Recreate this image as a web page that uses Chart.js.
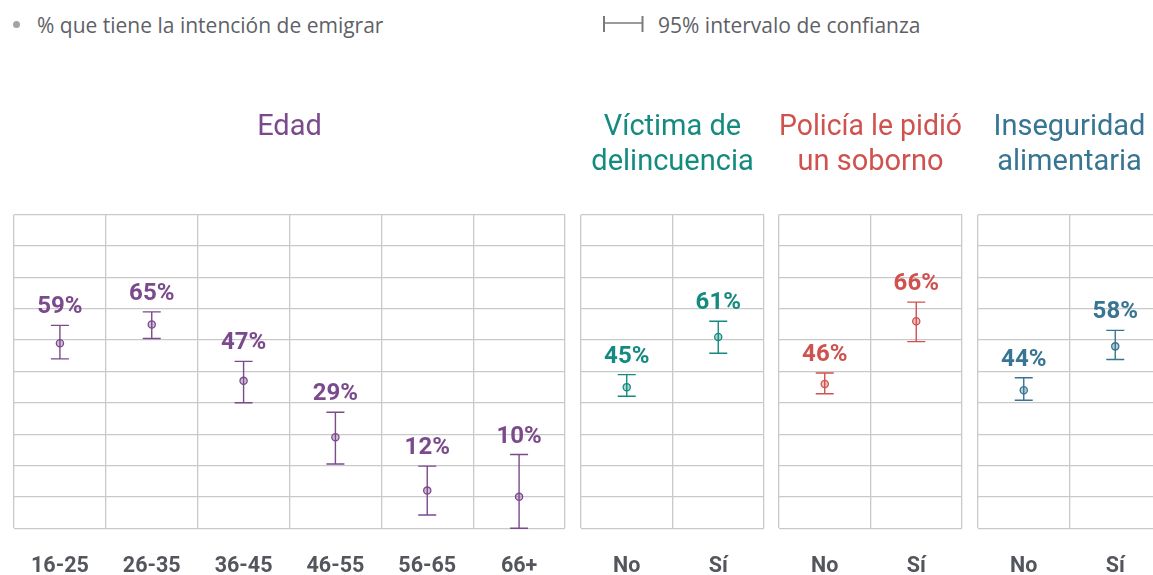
<!DOCTYPE html>
<html>
<head>
<meta charset="utf-8">
<script src="https://cdn.jsdelivr.net/npm/chart.js@4.4.1/dist/chart.umd.min.js"></script>
<style>
  html, body { margin: 0; padding: 0; background: #ffffff; overflow: hidden; width: 1153px; height: 575px; }
  .panel { position: absolute; top: 0; }
  .leg { position: absolute; top: 12px; height: 26px; line-height: 26px; font-family: 'Open Sans', sans-serif; font-size: 21px; color: #5e6166; white-space: nowrap; }
  #dot { position: absolute; left: 12.5px; top: 21px; width: 7px; height: 7px; border-radius: 50%; background: #a3a3a3; }
  #eb { position: absolute; left: 600px; top: 14px; }
</style>
</head>
<body>
<div id="dot"></div>
<div class="leg" style="left:37px">% que tiene la intención de emigrar</div>
<svg id="eb" width="48" height="22">
  <line x1="4" y1="2" x2="4" y2="18" stroke="#7a7a7a" stroke-width="2"/>
  <line x1="4" y1="9" x2="42.5" y2="9" stroke="#7a7a7a" stroke-width="1.5"/>
  <line x1="42.5" y1="2" x2="42.5" y2="18" stroke="#7a7a7a" stroke-width="2"/>
</svg>
<div class="leg" style="left:658px">95% intervalo de confianza</div>

<canvas id="c1" class="panel"></canvas>
<canvas id="c2" class="panel"></canvas>
<canvas id="c3" class="panel"></canvas>
<canvas id="c4" class="panel"></canvas>

<script>
// ---- Data ----
const ageLabels = ['16-25', '26-35', '36-45', '46-55', '56-65', '66+'];
const ageValues = [59, 65, 47, 29, 12, 10];
const ageLow    = [54, 60.5, 40, 20.5, 4.2, 0];
const ageHigh   = [64.7, 69, 53.2, 37, 19.8, 23.5];

const ynLabels = ['No', 'Sí'];

const victimValues = [45, 61];
const victimLow    = [42.1, 55.8];
const victimHigh   = [49, 66];

const policeValues = [46, 66];
const policeLow    = [42.9, 59.5];
const policeHigh   = [49.5, 72.1];

const foodValues = [44, 58];
const foodLow    = [40.8, 53.8];
const foodHigh   = [48, 63.1];

const titleAge    = ['Edad'];
const titleVictim = ['Víctima de', 'delincuencia'];
const titlePolice = ['Policía le pidió', 'un soborno'];
const titleFood   = ['Inseguridad', 'alimentaria'];

// ---- Error bars + value labels plugin ----
const errPlugin = {
  id: 'errbars',
  afterDatasetsDraw(chart) {
    const ctx = chart.ctx;
    const xs = chart.scales.x, ys = chart.scales.y;
    const ds = chart.data.datasets[0];
    ctx.save();
    ds.data.forEach((v, i) => {
      const x = xs.getPixelForValue(i);
      const yt = ys.getPixelForValue(ds.high[i]);
      const yb = ys.getPixelForValue(ds.low[i]);
      ctx.strokeStyle = ds.mainColor;
      ctx.lineWidth = 1.4;
      ctx.beginPath();
      ctx.moveTo(x, yt); ctx.lineTo(x, yb);
      ctx.moveTo(x - 9, yt); ctx.lineTo(x + 9, yt);
      ctx.moveTo(x - 9, yb); ctx.lineTo(x + 9, yb);
      ctx.stroke();
      ctx.fillStyle = ds.mainColor;
      ctx.font = 'bold 24px Roboto';
      ctx.textAlign = 'center';
      ctx.textBaseline = 'alphabetic';
      ctx.fillText(v + '%', x, yt - 12);
    });
    ctx.restore();
  }
};

function makePanel(id, areaLeft, areaWidth, title, labels, values, low, high, color, fill) {
  const pad = 4;      // layout padding = inset of chart area inside canvas
  const cv = document.getElementById(id);
  cv.width = areaWidth + pad * 2;
  cv.height = 606;
  cv.style.left = (areaLeft - pad) + 'px';
  const oneLine = title.length === 1;
  new Chart(cv, {
    type: 'line',
    data: {
      labels: labels,
      datasets: [{
        data: values,
        low: low,
        high: high,
        mainColor: color,
        showLine: false,
        pointRadius: 3.6,
        pointBorderWidth: 1.3,
        pointBorderColor: color,
        pointBackgroundColor: fill
      }]
    },
    options: {
      responsive: false,
      animation: false,
      events: [],
      layout: { autoPadding: false, padding: { left: pad, right: pad, top: 0, bottom: 0 } },
      plugins: {
        legend: { display: false },
        tooltip: { enabled: false },
        title: {
          display: true,
          text: title,
          color: color,
          font: { family: 'Roboto', size: 29, weight: 'normal', lineHeight: '35px' },
          padding: { top: 110, bottom: oneLine ? 69.7 : 34.7 }
        }
      },
      scales: {
        x: {
          offset: true,
          afterFit(scale) { scale.paddingLeft = 0; scale.paddingRight = 0; },
          grid: { offset: true, color: '#c9c9c9', lineWidth: 1.3, drawTicks: false },
          border: { display: false },
          ticks: { color: '#53575d', font: { family: 'Roboto', size: 21.5, weight: 'bold' }, padding: 26, maxRotation: 0 }
        },
        y: {
          min: 0, max: 100,
          ticks: { display: false, stepSize: 10 },
          grid: { color: '#c9c9c9', lineWidth: 1.3, drawTicks: false },
          border: { display: false }
        }
      }
    },
    plugins: [errPlugin]
  });
}

makePanel('c1', 14, 551.3, titleAge, ageLabels, ageValues, ageLow, ageHigh, '#7b4a8c', 'rgba(123,74,140,0.35)');
makePanel('c2', 580.7, 183, titleVictim, ynLabels, victimValues, victimLow, victimHigh, '#158b80', 'rgba(21,139,128,0.35)');
makePanel('c3', 779.3, 183, titlePolice, ynLabels, policeValues, policeLow, policeHigh, '#cf524e', 'rgba(207,82,78,0.35)');
makePanel('c4', 978.3, 183, titleFood, ynLabels, foodValues, foodLow, foodHigh, '#377592', 'rgba(55,117,146,0.35)');
</script>
</body>
</html>
